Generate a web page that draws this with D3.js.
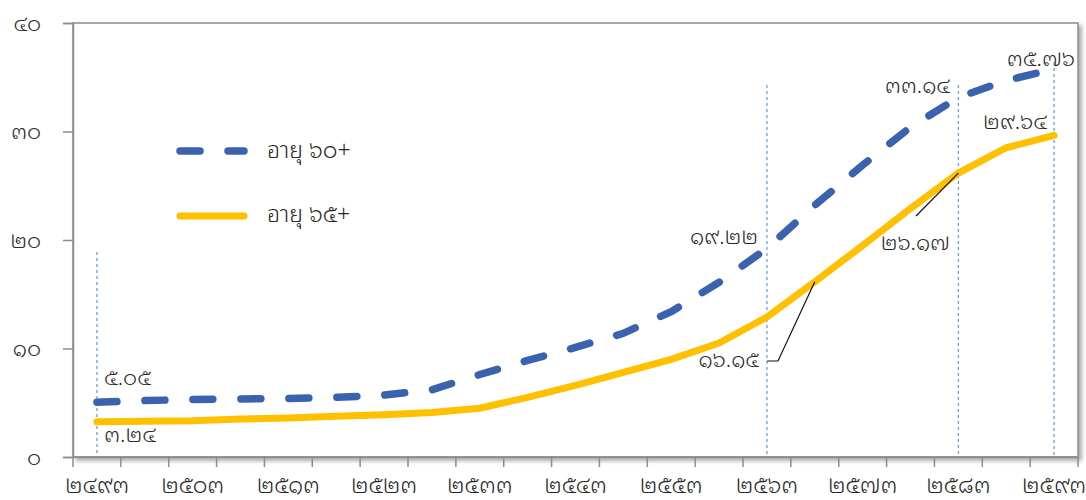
<!DOCTYPE html>
<html>
<head>
<meta charset="utf-8">
<script src="https://cdn.jsdelivr.net/npm/d3@7"></script>
<style>
  body { margin: 0; background: #fff; }
  text { font-family: "Noto Sans Thai Looped", "Noto Sans Thai", sans-serif; font-weight: 300; fill: #262626; }
</style>
</head>
<body>
<svg width="1086" height="500"></svg>
<script>
// population share (%) by age group, every 5 years (B.E.)
const years = d3.range(2493, 2594, 5);
const age60 = [5.05, 5.2, 5.3, 5.35, 5.4, 5.5, 5.7, 6.2, 7.6, 8.9, 10.1, 11.4, 13.4, 16.1, 19.22, 23.2, 26.9, 30.4, 33.14, 34.7, 35.76];
const age65 = [3.24, 3.3, 3.35, 3.5, 3.6, 3.75, 3.9, 4.1, 4.5, 5.5, 6.6, 7.8, 9.0, 10.5, 12.9, 16.15, 19.5, 22.9, 26.17, 28.5, 29.64];
const yTicks = [0, 10, 20, 30, 40];
const markYears = [2493, 2563, 2583, 2593];

const thaiDigits = "๐๑๒๓๔๕๖๗๘๙";
const thai = s => String(s).replace(/[0-9]/g, c => thaiDigits[+c]);

const svg = d3.select("svg");
const margin = { top: 23, right: 8, bottom: 43, left: 73 };
const width = 1086 - margin.left - margin.right;
const height = 500 - margin.top - margin.bottom;

const x = d3.scaleBand().domain(years).range([0, width]);
const y = d3.scaleLinear().domain([0, 40]).range([height, 0]);
const cx = yr => x(yr) + x.bandwidth() / 2;

const defs = svg.append("defs");
defs.append("filter")
  .attr("id", "shadow")
  .attr("x", "-5%").attr("y", "-5%").attr("width", "110%").attr("height", "115%")
  .append("feDropShadow")
  .attr("dx", 3).attr("dy", 3).attr("stdDeviation", 2)
  .attr("flood-color", "#000").attr("flood-opacity", 0.35);

const g = svg.append("g").attr("transform", `translate(${margin.left},${margin.top})`);

// plot frame
g.append("rect")
  .attr("width", width).attr("height", height)
  .attr("fill", "#fff").attr("stroke", "#8c8c8c").attr("stroke-width", 1.5)
  .attr("filter", "url(#shadow)");

// y axis
const yAxis = g.append("g")
  .call(d3.axisLeft(y).tickValues(yTicks).tickSize(10).tickPadding(22).tickFormat(thai));
yAxis.select(".domain").attr("stroke", "#8c8c8c").attr("stroke-width", 1.5);
yAxis.selectAll(".tick line").attr("stroke", "#8c8c8c").attr("stroke-width", 1.5);
yAxis.selectAll("text").attr("font-size", 22).attr("fill", "#262626");

// x axis: ticks at category boundaries, labels every 10 years
const xAxis = g.append("g").attr("transform", `translate(0,${height})`);
xAxis.append("line").attr("x1", 0).attr("x2", width).attr("stroke", "#8c8c8c").attr("stroke-width", 1.5);
xAxis.selectAll("line.tk")
  .data(years.concat([2598]))
  .join("line")
  .attr("class", "tk")
  .attr("x1", (d, i) => i * x.step()).attr("x2", (d, i) => i * x.step())
  .attr("y1", 0).attr("y2", 10)
  .attr("stroke", "#8c8c8c").attr("stroke-width", 1.5);
xAxis.selectAll("text")
  .data(years.filter((d, i) => i % 2 === 0))
  .join("text")
  .attr("x", d => cx(d)).attr("y", 36)
  .attr("text-anchor", "middle").attr("font-size", 23)
  .text(thai);

// vertical marker lines
const markTop = { 2493: 252, 2563: 85, 2583: 85, 2593: 62 };
g.selectAll("line.mark")
  .data(markYears)
  .join("line")
  .attr("class", "mark")
  .attr("x1", cx).attr("x2", cx)
  .attr("y1", d => markTop[d] - margin.top).attr("y2", height)
  .attr("stroke", "#5b9bd5").attr("stroke-width", 1.2).attr("stroke-dasharray", "3 3");

const line = d3.line().x((d, i) => cx(years[i])).y(d => y(d));

g.append("path").datum(age65)
  .attr("d", line).attr("fill", "none")
  .attr("stroke", "#ffc000").attr("stroke-width", 7).attr("stroke-linecap", "round");

g.append("path").datum(age60)
  .attr("d", line).attr("fill", "none")
  .attr("stroke", "#3a62ae").attr("stroke-width", 7.5)
  .attr("stroke-linecap", "round").attr("stroke-dasharray", "20 28");

// value labels
const labels = [
  { v: age60[0], x: 31, y: 385, anchor: "start" },
  { v: age65[0], x: 31, y: 442, anchor: "start" },
  { v: age60[14], x: 685, y: 244, anchor: "end" },
  { v: age65[15], x: 686, y: 367, anchor: "end" },
  { v: age65[18], x: 877, y: 250, anchor: "end" },
  { v: age60[18], x: 877, y: 93, anchor: "end" },
  { v: age65[20], x: 974, y: 129, anchor: "end" },
  { v: age60[20], x: 1002, y: 66, anchor: "end" }
];
g.selectAll("text.val")
  .data(labels)
  .join("text")
  .attr("class", "val")
  .attr("x", d => d.x).attr("y", d => d.y - margin.top)
  .attr("text-anchor", d => d.anchor).attr("font-size", 22)
  .text(d => thai(d3.format(".2f")(d.v)));

// leader lines
g.append("polyline")
  .attr("points", [[767 - 73, 361 - 23], [778 - 73, 361 - 23], [cx(2568), y(age65[15])]].join(" "))
  .attr("fill", "none").attr("stroke", "#111").attr("stroke-width", 1.2);
g.append("line")
  .attr("x1", 916 - 73).attr("y1", 216 - 23)
  .attr("x2", cx(2583)).attr("y2", y(age65[18]))
  .attr("stroke", "#111").attr("stroke-width", 1.2);

// legend
const legend = svg.append("g").attr("transform", "translate(177,0)");
legend.append("line").attr("x1", 3).attr("x2", 67).attr("y1", 151).attr("y2", 151)
  .attr("stroke", "#3a62ae").attr("stroke-width", 7.5).attr("stroke-linecap", "round")
  .attr("stroke-dasharray", "20 28");
legend.append("line").attr("x1", 3).attr("x2", 67).attr("y1", 216).attr("y2", 216)
  .attr("stroke", "#ffc000").attr("stroke-width", 7).attr("stroke-linecap", "round");
legend.append("text").attr("x", 90).attr("y", 158).attr("font-size", 23).text("อายุ " + thai("60") + "+");
legend.append("text").attr("x", 90).attr("y", 222).attr("font-size", 23).text("อายุ " + thai("65") + "+");
</script>
</body>
</html>
